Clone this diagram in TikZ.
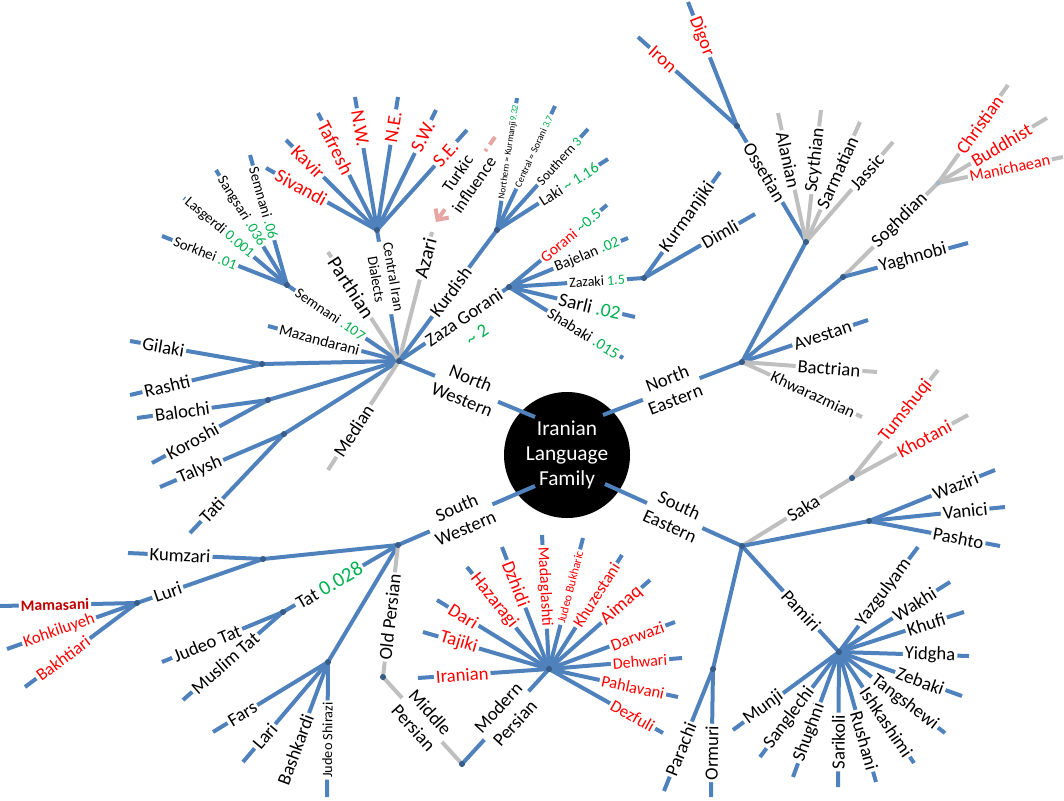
\documentclass[tikz,border=0pt]{standalone}
\usepackage{fontspec}
\setmainfont{Carlito}
\usetikzlibrary{calc,arrows.meta}
\definecolor{bl}{HTML}{4F81BD}
\definecolor{gy}{HTML}{BFBFBF}
\definecolor{jd}{HTML}{385D8A}
\definecolor{jdl}{HTML}{A8B8CC}
\definecolor{grn}{HTML}{00B050}
\definecolor{pnk}{HTML}{E6A5A3}
\definecolor{dred}{HTML}{C00000}
\newcommand\g[1]{\textcolor{grn}{#1}}
\pgfdeclarelayer{fg}
\pgfsetlayers{main,fg}
\tikzset{
  bline/.style={draw=bl,line width=3pt},
  gline/.style={draw=gy,line width=3pt},
  lbl/.style={fill=white,inner sep=1.5pt,text=black,font=\fontsize{14}{17}\selectfont},
  fs/.style={font=\fontsize{#1}{#1}\selectfont},
  rt/.style={text=red},
  mam/.style={text=dred,font=\bfseries\fontsize{11.8}{12}\selectfont},
  two/.style={align=center},
  tarrow/.style={draw=pnk,line width=3pt,dash pattern=on 7pt off 4pt,-{Straight Barb[length=6pt,width=12pt]}}
}
% label on the line from #2 to #3, centred at projection of #4
\newcommand\lb[5][]{%
  \begin{pgfonlayer}{fg}
  \path let \p1=($(#3)-(#2)$), \n1={atan2(\y1,\x1)+180*(\x1<0)} in
    node[lbl,#1,rotate=\n1] at ($(#2)!(#4)!(#3)$) {#5};
  \end{pgfonlayer}}
% branch to a new leaf end
\newcommand\br[7][]{%
  \coordinate (#4) at (#5);
  \draw[#2] (#3) -- (#4);
  \lb[#1]{#3}{#4}{#6}{#7}}
% branch to an existing junction
\newcommand\bj[6][]{%
  \draw[#2] (#3) -- (#4);
  \lb[#1]{#3}{#4}{#5}{#6}}
\begin{document}
\begin{tikzpicture}[x=0.75pt,y=-0.75pt]
\useasboundingbox (0,0) rectangle (1064,800);
% centre
\node[circle,fill=black,minimum size=94.5pt,inner sep=0pt,text=white,align=center,
      font=\fontsize{16}{19}\selectfont] (fam) at (567,455) {Iranian\\Language\\Family};
% junctions
\coordinate (NW) at (399,361);
\coordinate (gr1) at (262,364);
\coordinate (gr2) at (268,400);
\coordinate (gr3) at (284,434);
\coordinate (sem) at (287,285);
\coordinate (cid) at (377,230);
\coordinate (kur) at (497,230);
\coordinate (zg) at (509,287);
\coordinate (zaz) at (644,278);
\coordinate (NE) at (742,362);
\coordinate (oss0) at (806,242);
\coordinate (oss) at (737,126);
\coordinate (sog0) at (843,277);
\coordinate (sog) at (938,183);
\coordinate (SE) at (742,546);
\coordinate (saka) at (852,478);
\coordinate (pas) at (869,521);
\coordinate (pam) at (839,652);
\coordinate (par) at (713,669);
\coordinate (SW) at (398,545);
\coordinate (kl) at (263,559);
\coordinate (luri) at (137,603);
\coordinate (tat) at (283,612);
\coordinate (fars) at (328,662);
\coordinate (op) at (383,677);
\coordinate (mp) at (462,764);
\coordinate (modp) at (549,669);
\coordinate (cNW) at (535,417);
\coordinate (cNE) at (603,415);
\coordinate (cSW) at (535,486);
\coordinate (cSE) at (605,484);
% main branches
\bj[two]{bline}{cNW}{NW}{466,390}{North\\Western}
\bj[two]{bline}{cNE}{NE}{672,391}{North\\Eastern}
\bj[two]{bline}{cSW}{SW}{462,520}{South\\Western}
\bj[two]{bline}{cSE}{SE}{674,517}{South\\Eastern}
% ---------- North Western ----------
\draw[bline] (NW) -- (gr1);
\draw[bline] (NW) -- (gr2);
\draw[bline] (NW) -- (gr3);
\br{bline}{gr1}{eGil}{130,341}{163,349}{Gilaki}
\br{bline}{gr1}{eRas}{130,395}{167,386}{Rashti}
\br{bline}{gr2}{eBal}{137,418}{182,410}{Balochi}
\br{bline}{gr2}{eKor}{152,463}{193,442}{Koroshi}
\br{bline}{gr3}{eTal}{160,487}{200,470}{Talysh}
\br{bline}{gr3}{eTati}{190,533}{212,510}{Tati}
\br{gline}{NW}{eMed}{328,470}{354,431}{Median}
\br[fs=11.7]{bline}{NW}{eMaz}{268,326}{320,338}{Mazandarani}
\bj[fs=11]{bline}{NW}{sem}{330,315}{Semnani \g{.107}}
\br[fs=11]{bline}{sem}{eSork}{162,236}{205,254}{Sorkhei \g{.01}}
\br[fs=11]{bline}{sem}{eLasg}{184,198}{220,227}{Lasgerdi \g{0.001}}
\br[fs=11]{bline}{sem}{eSang}{216,170}{240,212}{Sangsari \g{.036}}
\br[fs=11]{bline}{sem}{eSem}{250,155}{263,203}{Semnani \g{.06}}
\bj[two,font=\fontsize{11}{13}\selectfont]{bline}{NW}{cid}{385,278}{Central Iran\\Dialects}
\br[rt,fs=14.5]{bline}{cid}{eSiv}{266,168}{301,188}{Sivandi}
\br[rt,fs=14.5]{bline}{cid}{eKav}{286,140}{308,162}{Kavir}
\br[rt,fs=14.5]{bline}{cid}{eTaf}{318,113}{335,148}{Tafresh}
\br[rt,fs=14.5]{bline}{cid}{eNWd}{355,97}{361,128}{N.W.}
\br[rt,fs=14.5]{bline}{cid}{eNEd}{398,97}{393,127}{N.E.}
\br[rt,fs=14.5]{bline}{cid}{eSWd}{436,110}{424,137}{S.W.}
\br[rt,fs=14.5]{bline}{cid}{eSEd}{467,130}{446,154}{S.E.}
\br[fs=15]{gline}{NW}{ePar}{328,252}{352,287}{Parthian}
\br[fs=15]{gline}{NW}{eAz}{432,232}{425,258}{Azari}
\coordinate (tA) at (495,137);
\coordinate (tB) at (436,222);
\draw[tarrow] (tA) -- (tB);
\lb[two,font=\fontsize{12.8}{15}\selectfont]{tA}{tB}{467,180}{Turkic\\influence}
\bj{bline}{NW}{kur}{448,290}{Kurdish}
\br[fs=7]{bline}{kur}{eNK}{517,98}{509,152}{Northern = Kurmanji\g{9.32}}
\br[fs=7.4]{bline}{kur}{eCS}{555,106}{535,152}{Central = Sorani \g{3.7}}
\br[fs=10]{bline}{kur}{eSo}{588,129}{560,162}{Southern \g{3}}
\br[fs=11.7]{bline}{kur}{eLaki}{608,159}{570,186}{Laki \g{\textasciitilde{} 1.16}}
\bj{bline}{NW}{zg}{463,316}{Zaza Gorani}
\node[text=grn,font=\fontsize{14}{17}\selectfont,rotate=34] (z2) at (477,335) {\textasciitilde{} 2};
\br[fs=11.7]{bline}{zg}{eGor}{607,205}{572,237}{\textcolor{red}{Gorani} \g{\textasciitilde0.5}}
\br[fs=11.5]{bline}{zg}{eBaj}{628,238}{588,257}{Bajelan \g{.02}}
\bj[fs=10.5]{bline}{zg}{zaz}{597,281}{Zazaki \g{1.5}}
\br[fs=14.5]{bline}{zg}{eSarli}{635,317}{590,305}{Sarli \g{.02}}
\br[fs=11.8]{bline}{zg}{eShab}{623,358}{584,333}{Shabaki \g{.015}}
\br{bline}{zaz}{eKurm}{720,172}{688,218}{Kurmanjiki}
\br{bline}{zaz}{eDim}{755,214}{722,238}{Dimli}
% ---------- North Eastern ----------
\draw[bline] (NE) -- (oss0);
\bj{bline}{oss0}{oss}{765,172}{Ossetian}
\br[rt]{bline}{oss}{eIron}{638,37}{662,60}{Iron}
\br[rt]{bline}{oss}{eDig}{688,2}{700,37}{Digor}
\br{gline}{oss0}{eAlan}{778,113}{788,160}{Alanian}
\br{gline}{oss0}{eScy}{821,110}{813,160}{Scythian}
\br{gline}{oss0}{eSarm}{860,122}{838,173}{Sarmatian}
\br{gline}{oss0}{eJas}{893,142}{868,173}{Jassic}
\draw[bline] (NE) -- (sog0);
\bj{gline}{sog0}{sog}{900,221}{Soghdian}
\br[rt]{gline}{sog}{eChr}{1008,85}{980,125}{Christian}
\br[rt]{gline}{sog}{eBud}{1047,118}{1002,146}{Buddhist}
\br[rt,fs=12.2]{gline}{sog}{eMan}{1063,157}{1010,169}{Manichaean}
\br{bline}{sog0}{eYag}{968,243}{913,258}{Yaghnobi}
\br{bline}{NE}{eAve}{868,320}{823,336}{Avestan}
\br{gline}{NE}{eBac}{877,372}{829,369}{Bactrian}
\br[fs=12.4]{gline}{NE}{eKhw}{862,417}{812,397}{Khwarazmian}
% ---------- South Eastern ----------
\bj{gline}{SE}{saka}{805,511}{Saka}
\br[rt]{gline}{saka}{eTum}{938,370}{905,410}{Tumshuqi}
\br[rt]{gline}{saka}{eKho}{968,415}{925,440}{Khotani}
\draw[bline] (SE) -- (pas);
\br{bline}{pas}{eWaz}{995,470}{957,490}{Waziri}
\br{bline}{pas}{eVan}{1005,507}{965,510}{Vanici}
\br{bline}{pas}{ePash}{1000,546}{958,540}{Pashto}
\bj{bline}{SE}{pam}{805,607}{Pamiri}
\br{bline}{pam}{eYaz}{918,547}{883,592}{Yazgulyam}
\br{bline}{pam}{eWak}{950,582}{915,605}{Wakhi}
\br{bline}{pam}{eKhu}{964,612}{928,630}{Khufi}
\br{bline}{pam}{eYid}{969,656}{930,657}{Yidgha}
\br{bline}{pam}{eZeb}{962,696}{920,682}{Zebaki}
\br{bline}{pam}{eTan}{945,733}{905,702}{Tangshewi}
\br{bline}{pam}{eIsh}{914,763}{885,723}{Ishkashimi}
\br{bline}{pam}{eRus}{876,782}{867,740}{Rushani}
\br{bline}{pam}{eSari}{838,787}{839,742}{Sarikoli}
\br{bline}{pam}{eShu}{793,777}{810,733}{Shughni}
\br{bline}{pam}{eSan}{760,757}{792,720}{Sanglechi}
\br{bline}{pam}{eMun}{733,730}{763,707}{Munji}
\draw[bline] (SE) -- (par);
\br{bline}{par}{ePara}{664,791}{683,750}{Parachi}
\br{bline}{par}{eOrm}{711,797}{716,753}{Ormuri}
% ---------- South Western ----------
\draw[bline] (SW) -- (kl);
\br{bline}{kl}{eKum}{128,553}{180,557}{Kumzari}
\bj{bline}{kl}{luri}{168,593}{Luri}
\br[mam]{bline}{luri}{eMam}{0,606}{55,606}{Mamasani}
\br[rt,fs=12.5]{bline}{luri}{eKoh}{7,649}{60,633}{Kohkiluyeh}
\br[rt,fs=13]{bline}{luri}{eBak}{25,687}{65,661}{Bakhtiari}
\bj{bline}{SW}{tat}{330,587}{Tat \g{\fontsize{15.5}{17}\selectfont 0.028}}
\br{bline}{tat}{eJT}{162,662}{207,643}{Judeo Tat}
\br{bline}{tat}{eMT}{183,700}{227,665}{Muslim Tat}
\draw[bline] (SW) -- (fars);
\br{bline}{fars}{eFars}{213,732}{243,715}{Fars}
\br{bline}{fars}{eLari}{243,762}{267,738}{Lari}
\br{bline}{fars}{eBash}{283,783}{302,752}{Bashkardi}
\br[fs=10.7]{bline}{fars}{eJS}{327,797}{328,740}{Judeo Shirazi}
\bj{gline}{SW}{op}{390,617}{Old Persian}
\bj[two]{gline}{op}{mp}{422,720}{Middle\\Persian}
\bj[two]{bline}{mp}{modp}{507,716}{Modern\\Persian}
\br[rt]{bline}{modp}{eIra}{418,678}{462,672}{Iranian}
\br[rt]{bline}{modp}{eTaj}{423,632}{460,638}{Tajiki}
\br[rt]{bline}{modp}{eDari}{437,600}{463,617}{Dari}
\br[rt]{bline}{modp}{eHaz}{467,567}{495,600}{Hazaragi}
\br[rt]{bline}{modp}{eDzh}{502,547}{513,585}{Dzhidi}
\br[rt,fs=12]{bline}{modp}{eMad}{542,535}{542,587}{Madaglashti}
\br[rt,fs=9]{bline}{modp}{eJB}{583,538}{570,587}{Judeo Bukharic}
\br[rt,fs=12.4]{bline}{modp}{eKhz}{622,555}{593,593}{Khuzestani}
\br[rt]{bline}{modp}{eAim}{650,580}{623,607}{Aimaq}
\br[rt,fs=12.8]{bline}{modp}{eDarw}{675,622}{637,635}{Darwazi}
\br[rt,fs=12]{bline}{modp}{eDeh}{682,658}{640,662}{Dehwari}
\br[rt,fs=12.4]{bline}{modp}{ePah}{678,697}{633,687}{Pahlavani}
\br[rt,fs=12.8]{bline}{modp}{eDez}{663,733}{632,717}{Dezfuli}
% junction dots
\begin{pgfonlayer}{fg}
\foreach \p in {NW,gr1,gr2,gr3,sem,cid,kur,zg,zaz,NE,oss0,oss,sog0,SE,saka,pas,pam,par,SW,kl,luri,tat,fars,op,mp,modp}
  \fill[jd] (\p) circle (2.3pt);
\fill[jdl] (sog) circle (2pt);
\end{pgfonlayer}
\end{tikzpicture}
\end{document}
